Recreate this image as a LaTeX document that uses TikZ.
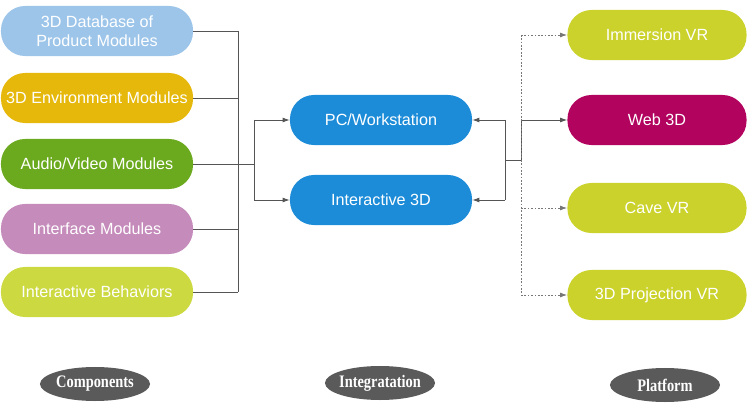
\documentclass[tikz,border=0pt]{standalone}
\usepackage{fontspec}
\setmainfont{Liberation Serif}
\setsansfont{Liberation Sans}
\newfontfamily\tagfont[FakeStretch=0.82]{Liberation Serif}
\usetikzlibrary{arrows.meta,shapes.geometric}
\definecolor{LightBlue}{HTML}{9DC5EA}
\definecolor{Gold}{HTML}{E5B80B}
\definecolor{Leaf}{HTML}{6BAA1F}
\definecolor{Mauve}{HTML}{C58BBB}
\definecolor{Lime}{HTML}{CCD940}
\definecolor{Azure}{HTML}{1C8CD9}
\definecolor{Olive}{HTML}{CBD22B}
\definecolor{Berry}{HTML}{B2035F}
\definecolor{Wire}{HTML}{555555}
\definecolor{Tag}{HTML}{5A5A5A}

\begin{document}
\begin{tikzpicture}[x=0.025cm,y=-0.025cm,
  module/.style={rounded corners=0.6cm,minimum height=1.25cm,align=center,text=white,inner sep=1pt,
    font=\sffamily\fontsize{11.5}{13.5}\selectfont},
  comp/.style={module,minimum width=4.8cm},
  integ/.style={module,minimum width=4.55cm,fill=Azure},
  plat/.style={module,minimum width=4.475cm},
  wire/.style={draw=Wire,line width=0.6pt},
  feed/.style={wire,-{Latex[length=5pt,width=3.5pt]}},
  dots/.style={draw=Wire!80,line width=0.7pt,dash pattern=on 1.2pt off 1.2pt},
  dfeed/.style={dots,-{Latex[length=5pt,width=3.5pt]}},
  tag/.style={ellipse,fill=Tag,text=white,minimum width=2.75cm,minimum height=0.85cm,
    inner xsep=-4pt,inner ysep=0pt,font=\tagfont\bfseries\fontsize{12.5}{14}\selectfont}
]
\useasboundingbox (0,0) rectangle (749,412);
\node[comp,fill=LightBlue] (c1) at (97,31) {3D Database of\\Product Modules};
\node[comp,fill=Gold] (c2) at (97,98) {3D Environment Modules};
\node[comp,fill=Leaf] (c3) at (97,164) {Audio/Video Modules};
\node[comp,fill=Mauve] (c4) at (97,229) {Interface Modules};
\node[comp,fill=Lime] (c5) at (97,292) {Interactive Behaviors};
\node[integ] (pc) at (381,120) {PC/Workstation};
\node[integ] (i3d) at (381,200) {Interactive 3D};
\node[plat,fill=Olive] (p1) at (657,35) {Immersion VR};
\node[plat,fill=Berry] (p2) at (657,120) {Web 3D};
\node[plat,fill=Olive] (p3) at (657,208) {Cave VR};
\node[plat,fill=Olive] (p4) at (657,295) {3D Projection VR};
\coordinate (busL) at (238,0);
\coordinate (jL) at (254,0);
\coordinate (jR) at (505,160);
\coordinate (busR) at (521,0);
\foreach \c in {c1,c2,c4,c5}
  \draw[wire] (\c.east) -- (\c.east -| busL);
\draw[wire] (c1.east -| busL) -- (c5.east -| busL);
\draw[wire] (c3.east) -- (c3.east -| jL);
\draw[wire] (pc.west -| jL) -- (i3d.west -| jL);
\draw[feed] (pc.west -| jL) -- (pc.west);
\draw[feed] (i3d.west -| jL) -- (i3d.west);
\draw[wire] (pc.east -| jR) -- (i3d.east -| jR);
\draw[feed] (pc.east -| jR) -- (pc.east);
\draw[feed] (i3d.east -| jR) -- (i3d.east);
\draw[wire] (jR) -- (jR -| busR) -- (p2.west -| busR);
\draw[feed] (p2.west -| busR) -- (p2.west);
\draw[dots] (p1.west -| busR) -- (p4.west -| busR);
\foreach \p in {p1,p3,p4}
  \draw[dfeed] (\p.west -| busR) -- (\p.west);
\node[tag] (tc) at (95,384) {Components};
\node[tag] (ti) at (380,383) {Integratation};
\node[tag] (tp) at (665,385) {Platform};
\end{tikzpicture}
\end{document}
